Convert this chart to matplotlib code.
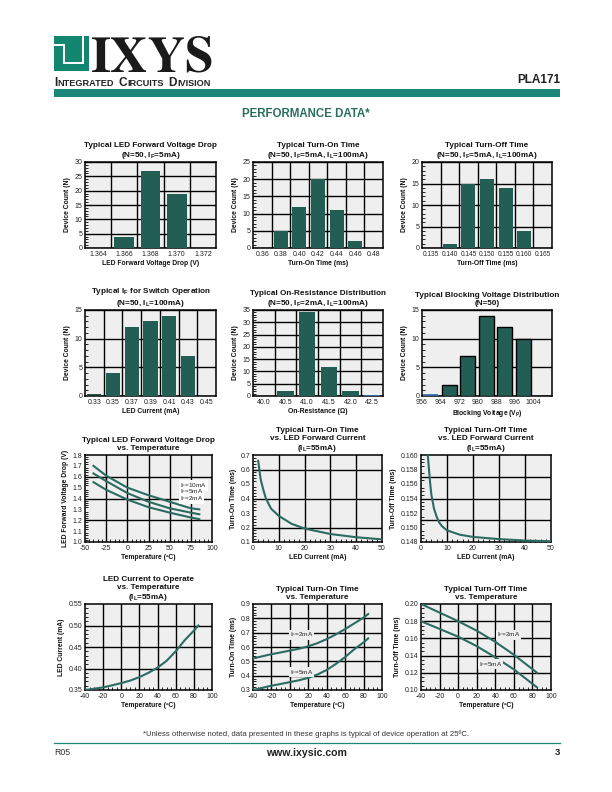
import matplotlib
matplotlib.use('Agg')
import matplotlib.pyplot as plt
from matplotlib import font_manager
from matplotlib.ticker import MultipleLocator, FixedLocator
from matplotlib.patches import Rectangle

names = {f.name for f in font_manager.fontManager.ttflist}
SANS = 'Liberation Sans Narrow' if 'Liberation Sans Narrow' in names else 'Liberation Sans'
plt.rcParams['font.family'] = [SANS, 'DejaVu Sans']
plt.rcParams['mathtext.fontset'] = 'custom'
plt.rcParams['mathtext.rm'] = SANS
plt.rcParams['mathtext.it'] = SANS
plt.rcParams['mathtext.bf'] = SANS + ':bold'

# ---------------- data ----------------
vf_ticks = [1.364, 1.366, 1.368, 1.370, 1.372]
vf_counts = [0, 4, 27, 19, 0]
ton_ticks = [0.36, 0.38, 0.40, 0.42, 0.44, 0.46, 0.48]
ton_counts = [0, 5, 12, 20, 11, 2, 0]
toff_ticks = [0.135, 0.140, 0.145, 0.150, 0.155, 0.160, 0.165]
toff_counts = [0, 1, 15, 16, 14, 4, 0]
if_ticks = [0.33, 0.35, 0.37, 0.39, 0.41, 0.43, 0.45]
if_counts = [0, 4, 12, 13, 14, 7, 0]
ron_ticks = [40.0, 40.5, 41.0, 41.5, 42.0, 42.5]
ron_counts = [0, 2, 34, 12, 2, 0]
bv_ticks = [956, 964, 972, 980, 988, 996, 1004]
bv_counts = [0, 2, 7, 14, 12, 10, 0]

vt_temp = [-40, -25, 0, 25, 50, 75, 85]
vt_10ma = [1.70, 1.61, 1.50, 1.43, 1.37, 1.31, 1.30]
vt_5ma = [1.63, 1.56, 1.45, 1.37, 1.31, 1.27, 1.255]
vt_2ma = [1.55, 1.48, 1.39, 1.32, 1.27, 1.225, 1.21]

ton_if = [2, 3, 4, 5, 7, 10, 15, 20, 30, 40, 50]
ton_vs_if = [0.66, 0.53, 0.46, 0.40, 0.33, 0.28, 0.225, 0.193, 0.155, 0.133, 0.118]

toff_if = [2.5, 3, 3.5, 4, 5, 6, 7, 8, 10, 15, 20, 30, 40, 50]
toff_vs_if = [0.1605, 0.1583, 0.1562, 0.1545, 0.1526, 0.1515, 0.1507, 0.1502,
              0.1496, 0.1490, 0.1487, 0.1484, 0.1482, 0.1481]

iop_temp = [-40, -20, 0, 10, 20, 30, 40, 50, 60, 70, 80, 85]
iop_ma = [0.350, 0.356, 0.366, 0.372, 0.380, 0.390, 0.402, 0.418, 0.440, 0.466, 0.488, 0.500]

tt_temp = [-40, -30, -20, -10, 0, 10, 20, 30, 40, 50, 60, 70, 80, 85]
ton_t_2ma = [0.52, 0.535, 0.55, 0.562, 0.575, 0.588, 0.605, 0.627, 0.655, 0.688, 0.725, 0.765, 0.805, 0.83]
ton_t_5ma = [0.30, 0.315, 0.33, 0.342, 0.355, 0.368, 0.385, 0.408, 0.44, 0.482, 0.53, 0.585, 0.632, 0.66]

toff_temp = [-40, -20, 0, 20, 40, 60, 85]
toff_t_2ma = [0.200, 0.190, 0.180, 0.169, 0.156, 0.141, 0.120]
toff_t_5ma = [0.180, 0.171, 0.162, 0.151, 0.138, 0.124, 0.103]

# ---------------- style ----------------
W, H = 612, 792
BAR = '#235e55'
CURVE = '#2b6b61'
TEAL = '#1c8779'
LOGO = '#13866f'
FACE = '#efeff0'
TXT = '#222222'
TITLE_FS = 5.9
TICK_FS = 5.0
LABEL_FS = 4.9

fig = plt.figure(figsize=(W / 100, H / 100), dpi=100)


def px(x, y):
    return x / W, 1 - y / H


def add_ax(l, t, r, b):
    ax = fig.add_axes([l / W, 1 - b / H, (r - l) / W, (b - t) / H])
    ax.set_facecolor(FACE)
    for s in ax.spines.values():
        s.set_linewidth(1.1)
        s.set_color('black')
    ax.tick_params(labelsize=TICK_FS, colors=TXT, pad=2)
    ax.set_axisbelow(True)
    return ax


def sub(main, s):
    return r'$\mathbf{' + main + r'}_{\mathbf{' + s + '}}$'


def decorate(ax, title, xlabel, ylabel):
    ax.set_title(title, fontsize=TITLE_FS, fontweight='bold', pad=3.5, linespacing=1.15, color='#111111')
    ax.set_xlabel(xlabel, fontsize=LABEL_FS, fontweight='bold', labelpad=1.8, color='#111111')
    ax.set_ylabel(ylabel, fontsize=LABEL_FS, fontweight='bold', labelpad=2.5, color='#111111')


def hist_ax(box, ticks, counts, xlim, ymax, ystep, fmt, title, xlabel,
            offset=0.0, grid_mid=True, edge=None, zero_color=None, wfrac=0.76, tick_fs=TICK_FS):
    ax = add_ax(*box)
    step = ticks[1] - ticks[0]
    pos = [t + offset for t in ticks]
    ax.bar(pos, counts, width=step * wfrac, color=BAR,
           edgecolor=edge if edge else BAR, linewidth=1.0 if edge else 0, zorder=3)
    if zero_color:
        for p, c in zip(pos, counts):
            if c == 0 and p in zero_color:
                ax.bar([p], [0], width=step * wfrac, bottom=0.1, edgecolor=zero_color[p],
                       linewidth=1.3, zorder=4, color='none')
    ax.set_xlim(*xlim)
    ax.set_ylim(0, ymax)
    ax.set_xticks(ticks)
    ax.set_xticklabels([fmt.format(t) for t in ticks])
    if grid_mid:
        gx = [(a + b) / 2 for a, b in zip(ticks[:-1], ticks[1:])]
    else:
        gx = ticks[1:]
    ax.xaxis.set_minor_locator(FixedLocator(gx))
    ax.grid(True, which='minor', axis='x', color='black', lw=1.0, zorder=1)
    ax.set_yticks(range(0, ymax + 1, ystep))
    ax.yaxis.set_minor_locator(MultipleLocator(1))
    ax.grid(True, which='major', axis='y', color='black', lw=1.0, zorder=1)
    ax.tick_params(axis='x', which='both', length=0, labelsize=tick_fs)
    ax.tick_params(axis='y', which='major', length=0)
    ax.tick_params(axis='y', which='minor', direction='in', length=2, width=0.6)
    decorate(ax, title, xlabel, 'Device Count (N)')
    return ax


def line_ax(box, xlim, xstep, xgrid, xminor, ylim, ystep, ygrid, yminor, yfmt,
            title, xlabel, ylabel):
    ax = add_ax(*box)
    ax.set_xlim(*xlim)
    ax.set_ylim(*ylim)
    ax.xaxis.set_major_locator(MultipleLocator(xstep))
    ax.yaxis.set_major_locator(MultipleLocator(ystep))
    ax.xaxis.set_minor_locator(MultipleLocator(xminor))
    ax.yaxis.set_minor_locator(MultipleLocator(yminor))
    ax.yaxis.set_major_formatter(plt.FuncFormatter(lambda v, p: yfmt.format(v)))
    ax.xaxis.set_major_formatter(plt.FuncFormatter(lambda v, p: '{:g}'.format(round(v, 6))))
    for g in xgrid:
        ax.axvline(g, color='black', lw=1.0, zorder=1)
    for g in ygrid:
        ax.axhline(g, color='black', lw=1.0, zorder=1)
    ax.tick_params(which='major', length=0)
    ax.tick_params(which='minor', direction='in', length=2, width=0.6)
    decorate(ax, title, xlabel, ylabel)
    return ax


def curve_label(ax, x, y, txt, face):
    ax.text(x, y, r'$\mathrm{I_F}$=' + txt, fontsize=4.6, va='center', ha='left', color=TXT,
            zorder=5, bbox=dict(facecolor=face, edgecolor='none', pad=0.5))


C_H = [(85, 216), (253, 383), (422, 552)]
C_L = [(85, 212), (253, 382), (421, 551)]
R = [(162, 248), (310, 396), (455, 542), (604, 690)]


def box(c, r):
    return (c[0], r[0], c[1], r[1])


# ---------------- row 1 ----------------
hist_ax(box(C_H[0], R[0]), vf_ticks, vf_counts, (1.363, 1.373), 30, 5, '{:.3f}',
        'Typical LED Forward Voltage Drop\n(N=50, ' + sub('I', 'F') + '=5mA)',
        'LED Forward Voltage Drop (V)')
hist_ax(box(C_H[1], R[0]), ton_ticks, ton_counts, (0.35, 0.49), 25, 5, '{:.2f}',
        'Typical Turn-On Time\n(N=50, ' + sub('I', 'F') + '=5mA, ' + sub('I', 'L') + '=100mA)',
        'Turn-On Time (ms)')
hist_ax(box(C_H[2], R[0]), toff_ticks, toff_counts, (0.1325, 0.1675), 20, 5, '{:.3f}',
        'Typical Turn-Off Time\n(N=50, ' + sub('I', 'F') + '=5mA, ' + sub('I', 'L') + '=100mA)',
        'Turn-Off Time (ms)', tick_fs=4.7)

# ---------------- row 2 ----------------
hist_ax(box(C_H[0], R[1]), if_ticks, if_counts, (0.32, 0.46), 15, 5, '{:.2f}',
        'Typical ' + sub('I', 'F') + ' for Switch Operation\n(N=50, ' + sub('I', 'L') + '=100mA)',
        'LED Current (mA)', zero_color={0.33: '#1a3c38'})
hist_ax(box(C_H[1], R[1]), ron_ticks, ron_counts, (39.75, 42.75), 35, 5, '{:.1f}',
        'Typical On-Resistance Distribution\n(N=50, ' + sub('I', 'F') + '=2mA, ' + sub('I', 'L') + '=100mA)',
        'On-Resistance (Ω)', zero_color={42.5: '#3a6fb0'})
hist_ax(box(C_H[2], R[1]), bv_ticks, bv_counts, (956, 1012), 15, 5, '{:d}',
        'Typical Blocking Voltage Distribution\n(N=50)',
        'Blocking Voltage (V' + r'$_{\mathbf{P}}$' + ')', offset=3.7, grid_mid=False,
        edge='black', zero_color={959.7: '#3a6fb0'}, wfrac=0.82)

# ---------------- row 3 ----------------
ax = line_ax(box(C_L[0], R[2]), (-50, 100), 25, [-25, 0, 25, 50, 75], 5,
             (1.0, 1.8), 0.1, [1.2, 1.4, 1.6], 0.02, '{:.1f}',
             'Typical LED Forward Voltage Drop\nvs. Temperature', 'Temperature (ºC)',
             'LED Forward Voltage Drop (V)')
for ys in (vt_10ma, vt_5ma, vt_2ma):
    ax.plot(vt_temp, ys, color=CURVE, lw=1.5, zorder=3)
for lab, yv in (('10mA', 1.52), ('5mA', 1.46), ('2mA', 1.40)):
    curve_label(ax, 62, yv, lab, 'white')

ax = line_ax(box(C_L[1], R[2]), (0, 50), 10, [10, 20, 30, 40], 2,
             (0.1, 0.7), 0.1, [0.2, 0.4, 0.6], 0.02, '{:.1f}',
             'Typical Turn-On Time\nvs. LED Forward Current\n(' + sub('I', 'L') + '=55mA)',
             'LED Current (mA)', 'Turn-On Time (ms)')
ax.plot(ton_if, ton_vs_if, color=CURVE, lw=1.5, zorder=3)

ax = line_ax(box(C_L[2], R[2]), (0, 50), 10, [10, 20, 30, 40], 2,
             (0.148, 0.160), 0.002, [0.151, 0.154, 0.157], 0.0005, '{:.3f}',
             'Typical Turn-Off Time\nvs. LED Forward Current\n(' + sub('I', 'L') + '=55mA)',
             'LED Current (mA)', 'Turn-Off Time (ms)')
ax.plot(toff_if, toff_vs_if, color=CURVE, lw=1.5, zorder=3)

# ---------------- row 4 ----------------
ax = line_ax(box(C_L[0], R[3]), (-40, 100), 20, [-20, 0, 20, 40, 60, 80], 5,
             (0.35, 0.55), 0.05, [0.40, 0.45, 0.50], 0.01, '{:.2f}',
             'LED Current to Operate\nvs. Temperature\n(' + sub('I', 'L') + '=55mA)',
             'Temperature (ºC)', 'LED Current (mA)')
ax.plot(iop_temp, iop_ma, color=CURVE, lw=1.5, zorder=3)

ax = line_ax(box(C_L[1], R[3]), (-40, 100), 20, [-20, 0, 20, 40, 60, 80], 5,
             (0.3, 0.9), 0.1, [0.4, 0.5, 0.6, 0.7, 0.8], 0.02, '{:.1f}',
             'Typical Turn-On Time\nvs. Temperature', 'Temperature (ºC)', 'Turn-On Time (ms)')
ax.plot(tt_temp, ton_t_2ma, color=CURVE, lw=1.5, zorder=3)
ax.plot(tt_temp, ton_t_5ma, color=CURVE, lw=1.5, zorder=3)
curve_label(ax, 0, 0.684, '2mA', FACE)
curve_label(ax, 0, 0.425, '5mA', FACE)

ax = line_ax(box(C_L[2], R[3]), (-40, 100), 20, [-20, 0, 20, 40, 60, 80], 5,
             (0.10, 0.20), 0.02, [0.12, 0.14, 0.16, 0.18], 0.005, '{:.2f}',
             'Typical Turn-Off Time\nvs. Temperature', 'Temperature (ºC)', 'Turn-Off Time (ms)')
ax.plot(toff_temp, toff_t_2ma, color=CURVE, lw=1.5, zorder=3)
ax.plot(toff_temp, toff_t_5ma, color=CURVE, lw=1.5, zorder=3)
curve_label(ax, 42, 0.164, '2mA', FACE)
curve_label(ax, 22, 0.130, '5mA', FACE)

# ---------------- header ----------------
lx, ly, ls = 54, 36, 35
fig.patches.append(Rectangle(px(lx, ly + ls), ls / W, ls / H, transform=fig.transFigure,
                             facecolor=LOGO, edgecolor='none'))
white_strips = [  # (x, y, w, h) in pixels
    (63, 44, 2.2, 20),
    (54, 44, 9, 2.2),
    (63, 62, 21, 2.2),
    (82, 36, 2.2, 28),
]
for (x, y, w, h) in white_strips:
    fig.patches.append(Rectangle(px(x, y + h), w / W, h / H, transform=fig.transFigure,
                                 facecolor='white', edgecolor='none'))

fig.text(*px(90, 71.5), r'$\mathbf{IXYS}$', fontsize=37, math_fontfamily='stix',
         color='#1a1a1a', ha='left', va='baseline')

renderer = fig.canvas.get_renderer()
cx = 54.0
for word in ['INTEGRATED', 'CIRCUITS', 'DIVISION']:
    for seg, size in ((word[0], 8.6), (word[1:], 6.6)):
        t = fig.text(*px(cx, 86.5), seg, fontsize=size, fontweight='bold',
                     family='Liberation Sans', color='#222222', ha='left', va='baseline')
        cx += t.get_window_extent(renderer=renderer).width + 0.6
    cx += 3.4

fig.patches.append(Rectangle(px(54, 96.5), (560 - 54) / W, 7.5 / H, transform=fig.transFigure,
                             facecolor=TEAL, edgecolor='none'))
fig.text(*px(560, 83), 'PLA171', fontsize=8.5, fontweight='bold', family='Liberation Sans',
         color='#222222', ha='right', va='baseline')
fig.text(*px(306, 117), 'PERFORMANCE DATA*', fontsize=8.3, fontweight='bold',
         family='Liberation Sans', color='#2a6e62', ha='center', va='baseline')

# ---------------- footer ----------------
fig.text(*px(306, 736), '*Unless otherwise noted, data presented in these graphs is typical of device operation at 25ºC.',
         fontsize=5.6, family='Liberation Sans', color='#333333', ha='center', va='baseline')
fig.lines.append(plt.Line2D([54 / W, 560 / W], [1 - 742.5 / H, 1 - 742.5 / H],
                            transform=fig.transFigure, color=TEAL, lw=0.9))
fig.text(*px(54, 755), 'R05', fontsize=6.3, family='Liberation Sans', color='#333333',
         ha='left', va='baseline')
fig.text(*px(306, 755.5), 'www.ixysic.com', fontsize=7.6, fontweight='bold',
         family='Liberation Sans', color='#222222', ha='center', va='baseline')
fig.text(*px(560, 755), '3', fontsize=6.8, fontweight='bold', family='Liberation Sans',
         color='#222222', ha='right', va='baseline')

fig.savefig('out.png', dpi=100)
